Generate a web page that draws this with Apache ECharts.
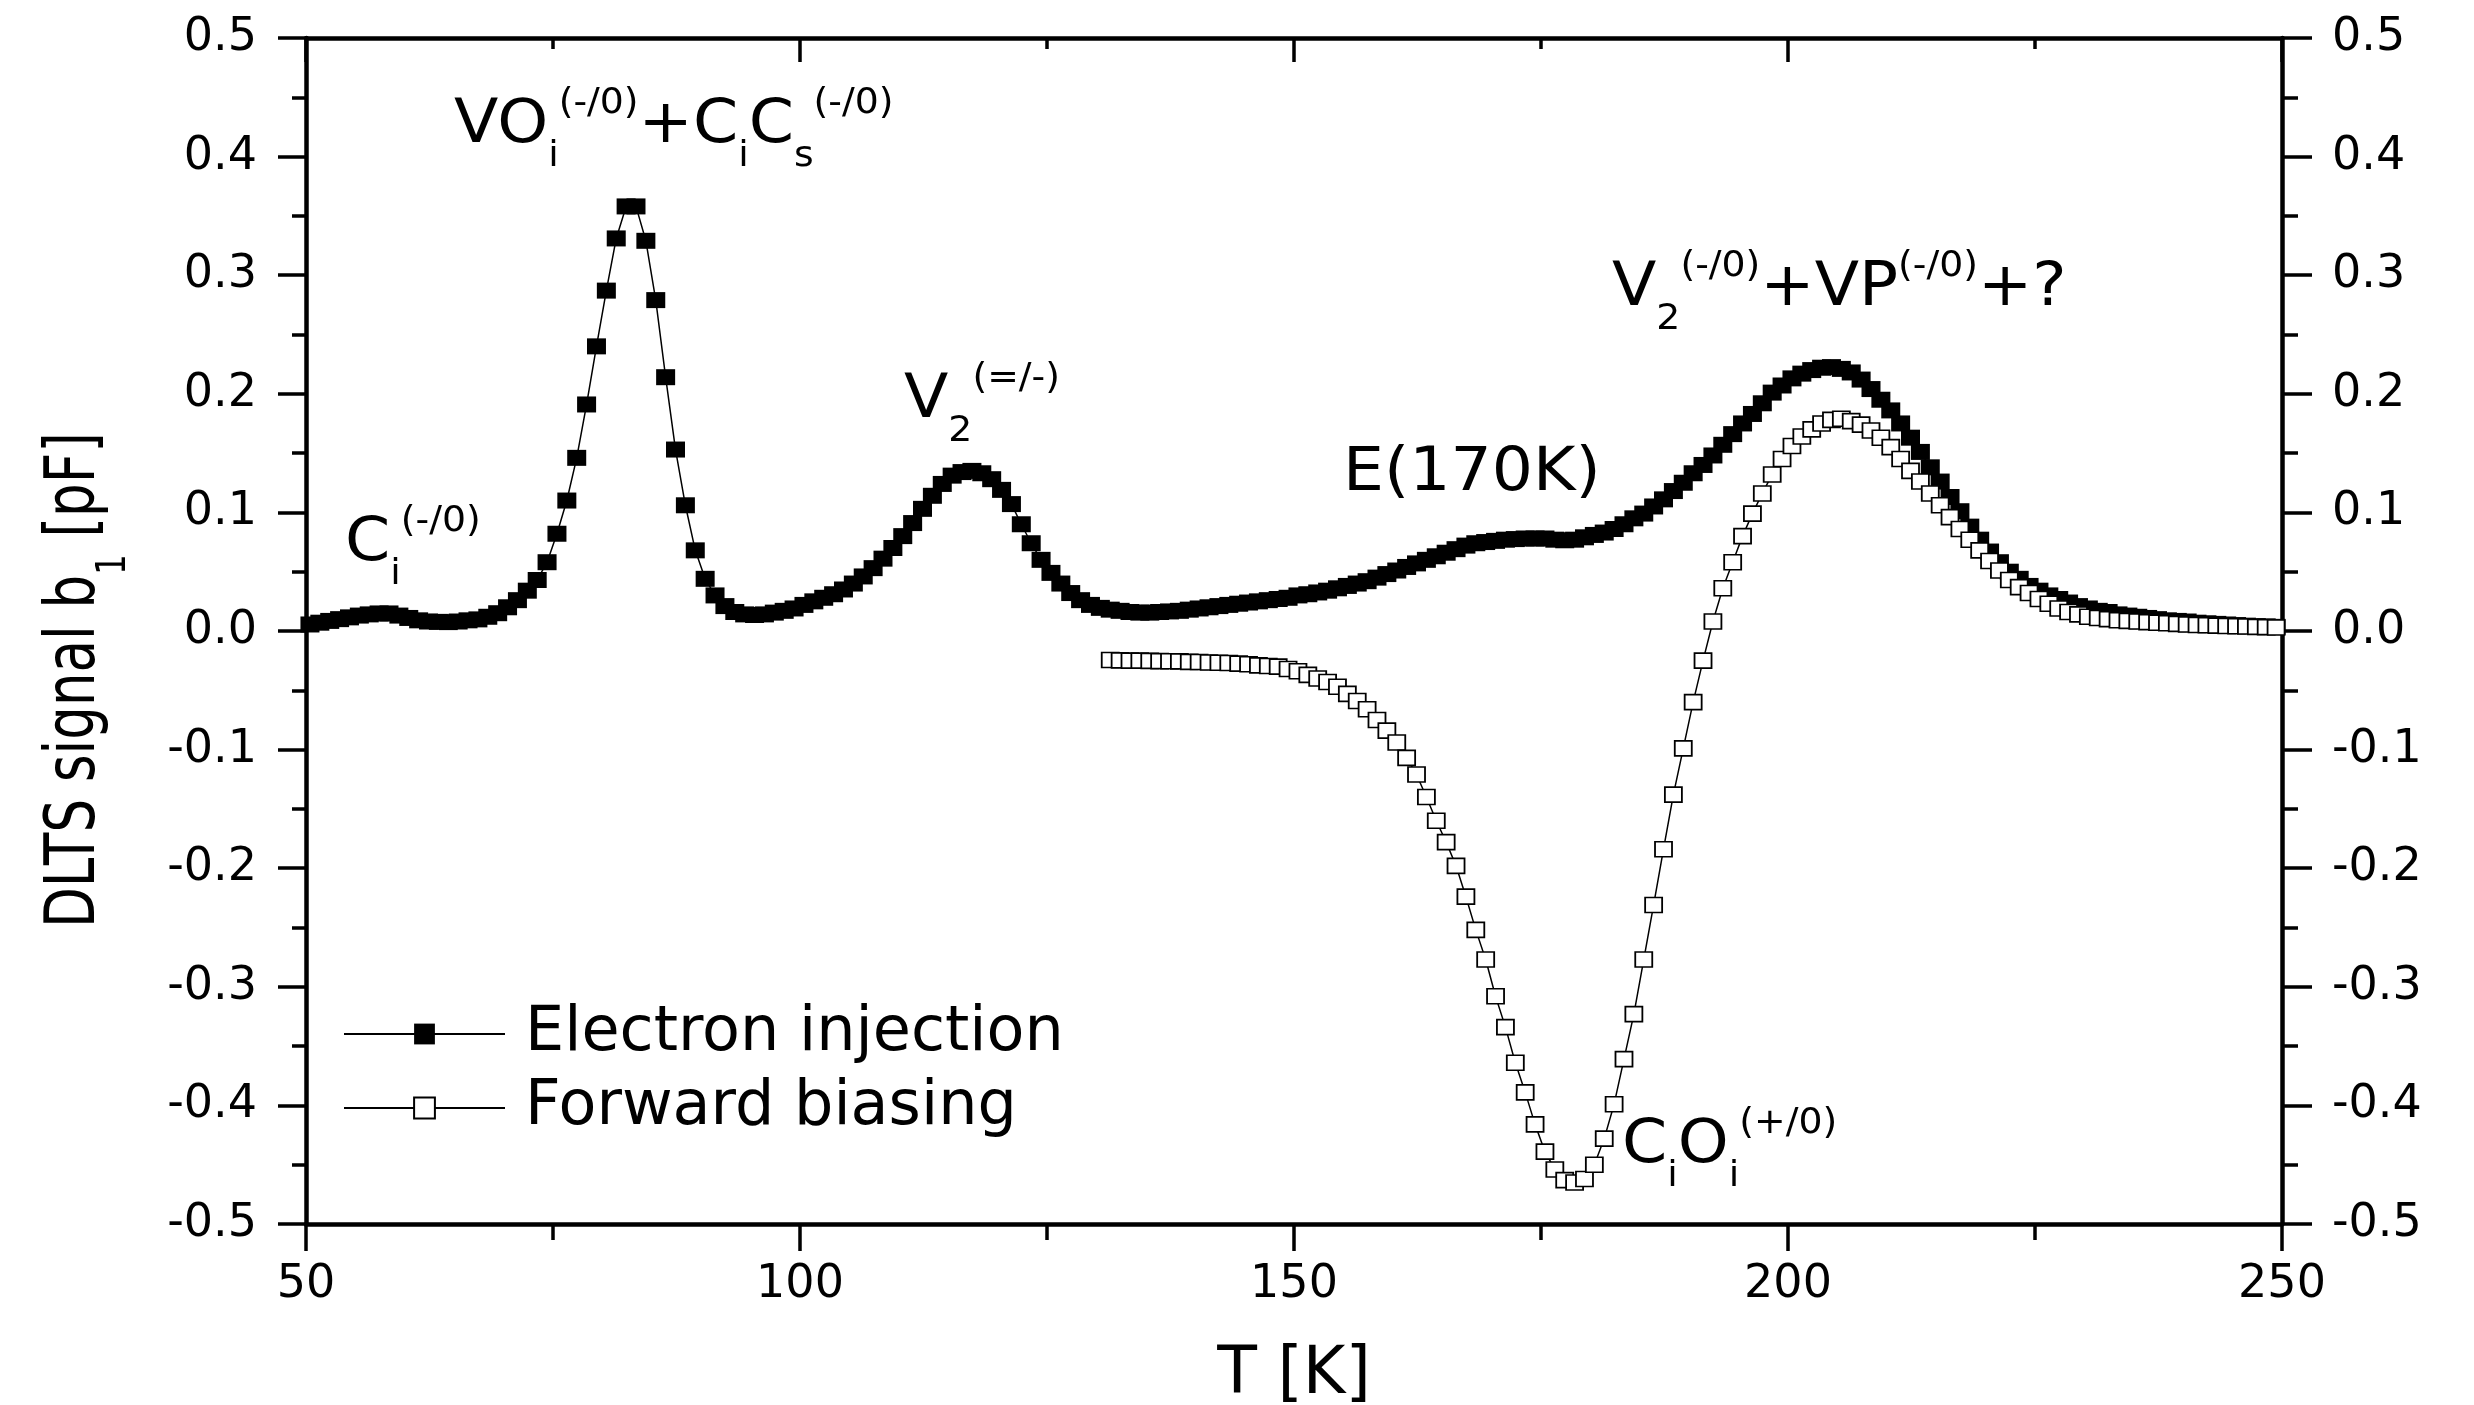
<!DOCTYPE html>
<html>
<head>
<meta charset="utf-8">
<title>DLTS spectra</title>
<script src="https://cdn.jsdelivr.net/npm/echarts/dist/echarts.min.js"></script>
<style>
  html, body { margin: 0; padding: 0; background: #fff; }
  #chart { width: 2474px; height: 1405px; }
</style>
</head>
<body>
<div id="chart"></div>
<script>
// [T (K), DLTS signal b1 (pF)]
const electronInjection = [
  [50.4, 0.0055], [51.4, 0.007], [52.4, 0.0085], [53.4, 0.010], [54.4, 0.0115], [55.4, 0.013], [56.4, 0.014], [57.4, 0.0148], [58.4, 0.0148], [59.4, 0.013],
  [60.4, 0.011], [61.4, 0.009], [62.4, 0.008], [63.4, 0.0077], [64.4, 0.0075], [65.4, 0.008], [66.4, 0.009], [67.4, 0.0098], [68.4, 0.012], [69.4, 0.015],
  [70.4, 0.020], [71.4, 0.026], [72.4, 0.034], [73.4, 0.043], [74.4, 0.058], [75.4, 0.082], [76.4, 0.110], [77.4, 0.146], [78.4, 0.191], [79.4, 0.240],
  [80.4, 0.287], [81.4, 0.331], [82.4, 0.358], [83.4, 0.358], [84.4, 0.329], [85.4, 0.279], [86.4, 0.214], [87.4, 0.153], [88.4, 0.106], [89.4, 0.068],
  [90.4, 0.044], [91.4, 0.030], [92.4, 0.021], [93.4, 0.016], [94.4, 0.014], [95.4, 0.0135], [96.4, 0.014], [97.4, 0.0155], [98.4, 0.017], [99.4, 0.019],
  [100.4, 0.022], [101.4, 0.025], [102.4, 0.028], [103.4, 0.031], [104.4, 0.035], [105.4, 0.040], [106.4, 0.046], [107.4, 0.053], [108.4, 0.061], [109.4, 0.070],
  [110.4, 0.080], [111.4, 0.091], [112.4, 0.103], [113.4, 0.114], [114.4, 0.124], [115.4, 0.131], [116.4, 0.134], [117.4, 0.135], [118.4, 0.133], [119.4, 0.128],
  [120.4, 0.119], [121.4, 0.107], [122.4, 0.090], [123.4, 0.074], [124.4, 0.060], [125.4, 0.049], [126.4, 0.040], [127.4, 0.032], [128.4, 0.026], [129.4, 0.022],
  [130.4, 0.0195], [131.4, 0.018], [132.4, 0.017], [133.4, 0.016], [134.4, 0.0155], [135.4, 0.0155], [136.4, 0.016], [137.4, 0.0165], [138.4, 0.017], [139.4, 0.018],
  [140.4, 0.019], [141.4, 0.020], [142.4, 0.021], [143.4, 0.022], [144.4, 0.023], [145.4, 0.024], [146.4, 0.025], [147.4, 0.026], [148.4, 0.027], [149.4, 0.028],
  [150.4, 0.030], [151.4, 0.031], [152.4, 0.0325], [153.4, 0.034], [154.4, 0.036], [155.4, 0.038], [156.4, 0.040], [157.4, 0.042], [158.4, 0.045], [159.4, 0.048],
  [160.4, 0.051], [161.4, 0.054], [162.4, 0.057], [163.4, 0.060], [164.4, 0.063], [165.4, 0.066], [166.4, 0.069], [167.4, 0.072], [168.4, 0.074], [169.4, 0.075],
  [170.4, 0.076], [171.4, 0.077], [172.4, 0.0775], [173.4, 0.078], [174.4, 0.078], [175.4, 0.078], [176.4, 0.077], [177.4, 0.0765], [178.4, 0.077], [179.4, 0.079],
  [180.4, 0.081], [181.4, 0.083], [182.4, 0.086], [183.4, 0.090], [184.4, 0.095], [185.4, 0.099], [186.4, 0.105], [187.4, 0.111], [188.4, 0.118], [189.4, 0.125],
  [190.4, 0.133], [191.4, 0.140], [192.4, 0.148], [193.4, 0.157], [194.4, 0.166], [195.4, 0.175], [196.4, 0.183], [197.4, 0.192], [198.4, 0.201], [199.4, 0.207],
  [200.4, 0.213], [201.4, 0.217], [202.4, 0.220], [203.4, 0.222], [204.4, 0.2225], [205.4, 0.221], [206.4, 0.218], [207.4, 0.212], [208.4, 0.204], [209.4, 0.195],
  [210.4, 0.186], [211.4, 0.175], [212.4, 0.163], [213.4, 0.151], [214.4, 0.138], [215.4, 0.126], [216.4, 0.113], [217.4, 0.101], [218.4, 0.088], [219.4, 0.077],
  [220.4, 0.067], [221.4, 0.058], [222.4, 0.050], [223.4, 0.044], [224.4, 0.038], [225.4, 0.034], [226.4, 0.030], [227.4, 0.027], [228.4, 0.024], [229.4, 0.021],
  [230.4, 0.019], [231.4, 0.017], [232.4, 0.016], [233.4, 0.014], [234.4, 0.013], [235.4, 0.012], [236.4, 0.011], [237.4, 0.010], [238.4, 0.009], [239.4, 0.0085],
  [240.4, 0.008], [241.4, 0.007], [242.4, 0.0065], [243.4, 0.006], [244.4, 0.0055], [245.4, 0.005], [246.4, 0.0045], [247.4, 0.004], [248.4, 0.0038], [249.4, 0.0035]
];

const forwardBiasing = [
  [131.4, -0.0245], [132.4, -0.0248], [133.4, -0.025], [134.4, -0.025], [135.4, -0.0252], [136.4, -0.0254], [137.4, -0.0255], [138.4, -0.0256], [139.4, -0.026],
  [140.4, -0.0262], [141.4, -0.0265], [142.4, -0.0268], [143.4, -0.027], [144.4, -0.0275], [145.4, -0.028], [146.4, -0.029], [147.4, -0.0295], [148.4, -0.030], [149.4, -0.032],
  [150.4, -0.034], [151.4, -0.037], [152.4, -0.040], [153.4, -0.043], [154.4, -0.047], [155.4, -0.053], [156.4, -0.059], [157.4, -0.066], [158.4, -0.075], [159.4, -0.084],
  [160.4, -0.094], [161.4, -0.107], [162.4, -0.121], [163.4, -0.140], [164.4, -0.160], [165.4, -0.178], [166.4, -0.198], [167.4, -0.224], [168.4, -0.252], [169.4, -0.277],
  [170.4, -0.308], [171.4, -0.334], [172.4, -0.364], [173.4, -0.389], [174.4, -0.416], [175.4, -0.439], [176.4, -0.454], [177.4, -0.463], [178.4, -0.465], [179.4, -0.462],
  [180.4, -0.450], [181.4, -0.428], [182.4, -0.399], [183.4, -0.361], [184.4, -0.323], [185.4, -0.277], [186.4, -0.231], [187.4, -0.184], [188.4, -0.138], [189.4, -0.099],
  [190.4, -0.060], [191.4, -0.025], [192.4, 0.008], [193.4, 0.036], [194.4, 0.058], [195.4, 0.080], [196.4, 0.099], [197.4, 0.116], [198.4, 0.132], [199.4, 0.145],
  [200.4, 0.156], [201.4, 0.164], [202.4, 0.170], [203.4, 0.175], [204.4, 0.178], [205.4, 0.179], [206.4, 0.177], [207.4, 0.174], [208.4, 0.169], [209.4, 0.163],
  [210.4, 0.155], [211.4, 0.145], [212.4, 0.135], [213.4, 0.126], [214.4, 0.116], [215.4, 0.106], [216.4, 0.096], [217.4, 0.086], [218.4, 0.077], [219.4, 0.068],
  [220.4, 0.059], [221.4, 0.051], [222.4, 0.043], [223.4, 0.037], [224.4, 0.032], [225.4, 0.027], [226.4, 0.023], [227.4, 0.019], [228.4, 0.016], [229.4, 0.014],
  [230.4, 0.012], [231.4, 0.011], [232.4, 0.010], [233.4, 0.009], [234.4, 0.0085], [235.4, 0.008], [236.4, 0.0075], [237.4, 0.007], [238.4, 0.0065], [239.4, 0.006],
  [240.4, 0.0055], [241.4, 0.005], [242.4, 0.0048], [243.4, 0.0045], [244.4, 0.0042], [245.4, 0.004], [246.4, 0.0038], [247.4, 0.0035], [248.4, 0.0033], [249.4, 0.003]
];

const seriesNames = ['Electron injection', 'Forward biasing'];
const xRange = [50, 250];
const xStep = 50;
const yRange = [-0.5, 0.5];
const yStep = 0.1;

// peak labels: anchor = [T, signal] of the left end of the baseline
// parts: n = normal, b = subscript, p = superscript
const peakLabels = [
  { at: [53.95, 0.0557], parts: [['C', 'n'], ['i', 'b'], ['(-/0)', 'p']] },
  { at: [64.98, 0.408], parts: [['VO', 'n'], ['i', 'b'], ['(-/0)', 'p'], ['+C', 'n'], ['i', 'b'], ['C', 'n'], ['s', 'b'], ['(-/0)', 'p']] },
  { at: [110.53, 0.176], parts: [['V', 'n'], ['2', 'b'], ['(=/-)', 'p']] },
  { at: [154.96, 0.1147], parts: [['E(170K)', 'n']] },
  { at: [182.19, 0.2707], parts: [['V', 'n'], ['2', 'b'], ['(-/0)', 'p'], ['+VP', 'n'], ['(-/0)', 'p'], ['+?', 'n']] },
  { at: [183.2, -0.452], parts: [['C', 'n'], ['i', 'b'], ['O', 'n'], ['i', 'b'], ['(+/0)', 'p']] }
];

const FONT = '"DejaVu Sans", "Liberation Sans", sans-serif';
const SUB_DROP = 22;
const SUP_RISE = 31;

const chart = echarts.init(document.getElementById('chart'));

const axisLine = { show: true, onZero: false, lineStyle: { color: '#000', width: 4.5 } };
const tickStyle = { color: '#000', width: 3.5 };
const labelStyle = { color: '#000', fontSize: 46, fontFamily: FONT };
const fmtY = (v) => (Math.abs(v) < 1e-9 ? 0 : v).toFixed(1);

chart.setOption({
  animation: false,
  backgroundColor: '#fff',
  grid: { left: 306, right: 192, top: 38, bottom: 181, containLabel: false, outerBoundsMode: 'none' },
  legend: {
    data: seriesNames,
    orient: 'vertical',
    left: 343,
    top: 1003,
    padding: 0,
    itemWidth: 161,
    itemHeight: 26,
    itemGap: 12,
    selectedMode: false,
    textStyle: { color: '#000', fontSize: 62, fontFamily: FONT, padding: [0, 0, 0, 15] }
  },
  xAxis: [
    {
      type: 'value', position: 'bottom', min: xRange[0], max: xRange[1], interval: xStep,
      axisLine,
      axisTick: { show: true, length: 27, lineStyle: tickStyle },
      minorTick: { show: true, splitNumber: 2, length: 16, lineStyle: tickStyle },
      axisLabel: { ...labelStyle, margin: 38, showMinLabel: true, showMaxLabel: true },
      splitLine: { show: false },
      minorSplitLine: { show: false },
      name: 'T [K]',
      nameLocation: 'middle',
      nameGap: 120,
      nameTextStyle: { color: '#000', fontSize: 65, fontFamily: FONT }
    },
    {
      type: 'value', position: 'top', min: xRange[0], max: xRange[1], interval: xStep,
      axisLine,
      axisTick: { show: true, inside: true, length: 24, lineStyle: tickStyle },
      minorTick: { show: true, splitNumber: 2, length: 11, lineStyle: tickStyle },
      axisLabel: { show: false },
      splitLine: { show: false }
    }
  ],
  yAxis: [
    {
      type: 'value', position: 'left', min: yRange[0], max: yRange[1], interval: yStep,
      axisLine,
      axisTick: { show: true, length: 28, lineStyle: tickStyle },
      minorTick: { show: true, splitNumber: 2, length: 14, lineStyle: tickStyle },
      axisLabel: { ...labelStyle, margin: 49, formatter: fmtY, showMinLabel: true, showMaxLabel: true },
      splitLine: { show: false }
    },
    {
      type: 'value', position: 'right', min: yRange[0], max: yRange[1], interval: yStep,
      axisLine,
      axisTick: { show: true, length: 30, lineStyle: tickStyle },
      minorTick: { show: true, splitNumber: 2, length: 16, lineStyle: tickStyle },
      axisLabel: { ...labelStyle, margin: 50, formatter: fmtY, showMinLabel: true, showMaxLabel: true },
      splitLine: { show: false }
    }
  ],
  series: [
    {
      name: seriesNames[0],
      type: 'line',
      xAxisIndex: 0,
      yAxisIndex: 0,
      data: electronInjection,
      symbol: 'rect',
      symbolSize: [19, 16],
      itemStyle: { color: '#000' },
      lineStyle: { color: '#000', width: 1.5 },
      emphasis: { disabled: true },
      z: 2
    },
    {
      name: seriesNames[1],
      type: 'line',
      xAxisIndex: 0,
      yAxisIndex: 0,
      data: forwardBiasing,
      symbol: 'rect',
      symbolSize: [17, 15],
      itemStyle: { color: '#fff', borderColor: '#000', borderWidth: 1.7 },
      lineStyle: { color: '#000', width: 1.5 },
      emphasis: { disabled: true },
      z: 3
    }
  ]
});

// text helpers for sub/superscripted labels
const measureCtx = document.createElement('canvas').getContext('2d');
function textWidth(str, size) {
  measureCtx.font = size + 'px "DejaVu Sans"';
  return measureCtx.measureText(str).width;
}

function scriptedText(parts, mainSize, smallSize) {
  let x = 0;
  return parts.map(([str, kind]) => {
    const size = kind === 'n' ? mainSize : smallSize;
    const base = kind === 'b' ? SUB_DROP : kind === 'p' ? -SUP_RISE : 0;
    const el = {
      type: 'text',
      x,
      y: base - 0.35 * size,
      style: { text: str, fontSize: size, fontFamily: FONT, fill: '#000', align: 'left', verticalAlign: 'middle' }
    };
    x += textWidth(str, size);
    return el;
  });
}

const elements = peakLabels.map((lab) => {
  const [px, py] = chart.convertToPixel({ seriesIndex: 0 }, lab.at);
  return { type: 'group', x: px, y: py, scaleX: 1.08, children: scriptedText(lab.parts, 60, 35) };
});

// y axis title, rotated, with subscript
elements.push({
  type: 'group',
  x: 100,
  y: 928,
  rotation: Math.PI / 2,
  scaleY: 1.3,
  children: scriptedText([['DLTS signal b', 'n'], ['1', 'b'], [' [pF]', 'n']], 53, 32)
});

chart.setOption({ graphic: { elements } });
</script>
</body>
</html>
